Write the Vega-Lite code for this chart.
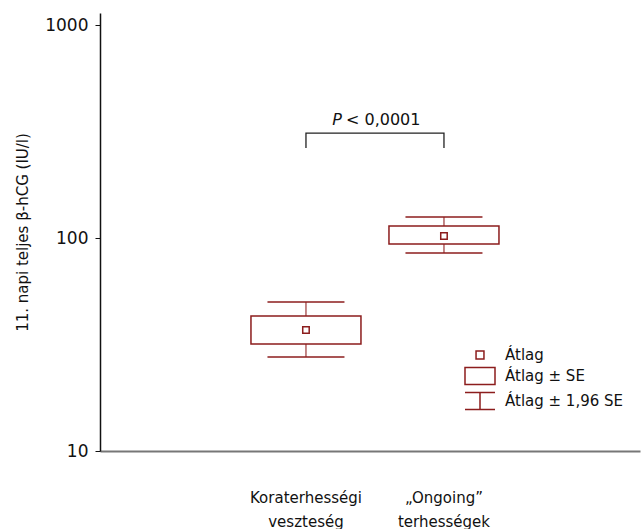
{
  "$schema": "https://vega.github.io/schema/vega-lite/v6.json",
  "width": 540,
  "height": 438,
  "autosize": "none",
  "padding": {"left": 100, "top": 13, "right": 1, "bottom": 78},
  "background": "white",
  "config": {
    "view": {"stroke": null},
    "font": "DejaVu Sans",
    "axis": {"labelFont": "DejaVu Sans", "titleFont": "DejaVu Sans", "grid": false}
  },
  "datasets": {
    "stats": [
      {"group": "Koraterhességi veszteség", "mean": 37.0, "se_lo": 31.8, "se_hi": 43.0, "ci_lo": 27.6, "ci_hi": 50.1},
      {"group": "„Ongoing” terhességek", "mean": 102.2, "se_lo": 93.7, "se_hi": 113.8, "ci_lo": 85.0, "ci_hi": 125.5}
    ],
    "bracket": [
      {"group": "Koraterhességi veszteség", "y": 265, "o": 1},
      {"group": "Koraterhességi veszteség", "y": 311, "o": 2},
      {"group": "„Ongoing” terhességek", "y": 311, "o": 3},
      {"group": "„Ongoing” terhességek", "y": 265, "o": 4}
    ],
    "ptext": [
      {"group": "Koraterhességi veszteség", "y": 358}
    ],
    "legend": [
      {"group": "Koraterhességi veszteség", "y": 10, "item": "Átlag"},
      {"group": "Koraterhességi veszteség", "y": 10, "item": "Átlag ± SE"},
      {"group": "Koraterhességi veszteség", "y": 10, "item": "Átlag ± 1,96 SE"}
    ]
  },
  "encoding": {
    "x": {
      "field": "group",
      "type": "nominal",
      "scale": {
        "type": "band",
        "domain": ["Koraterhességi veszteség", "„Ongoing” terhességek"],
        "paddingInner": 0.087,
        "paddingOuter": 1,
        "align": 0.518
      },
      "axis": {
        "title": null,
        "ticks": false,
        "labelAngle": 0,
        "labelPadding": 39,
        "labelBaseline": "top",
        "labelLineHeight": 24,
        "labelFontSize": 15,
        "labelColor": "#111",
        "domainColor": "#777",
        "domainWidth": 2,
        "labelExpr": "split(datum.label, ' ')"
      }
    }
  },
  "layer": [
    {
      "data": {"name": "stats"},
      "mark": {"type": "rule", "color": "#8c1d1d", "strokeWidth": 1.5, "opacity": 0.7},
      "encoding": {
        "y": {
          "field": "ci_lo",
          "type": "quantitative",
          "scale": {"type": "log", "domain": [10, 1140], "nice": false},
          "axis": {
            "title": "11. napi teljes β-hCG (IU/l)",
            "titleFontSize": 15,
            "titleFontWeight": "normal",
            "titleColor": "#111",
            "titlePadding": 14,
            "values": [10, 100, 1000],
            "format": "d",
            "labelFontSize": 17,
            "labelColor": "#111",
            "labelPadding": 7,
            "tickSize": 5,
            "tickColor": "#111",
            "domainColor": "#111",
            "domainWidth": 1.5
          }
        },
        "y2": {"field": "ci_hi"}
      }
    },
    {
      "data": {"name": "stats"},
      "mark": {"type": "tick", "orient": "horizontal", "color": "#8c1d1d", "size": 77, "thickness": 1.5, "opacity": 1},
      "encoding": {"y": {"field": "ci_lo", "type": "quantitative"}}
    },
    {
      "data": {"name": "stats"},
      "mark": {"type": "tick", "orient": "horizontal", "color": "#8c1d1d", "size": 77, "thickness": 1.5, "opacity": 1},
      "encoding": {"y": {"field": "ci_hi", "type": "quantitative"}}
    },
    {
      "data": {"name": "stats"},
      "mark": {"type": "bar", "width": 110, "fill": "white", "stroke": "#8c1d1d", "strokeWidth": 1.5},
      "encoding": {
        "y": {"field": "se_lo", "type": "quantitative"},
        "y2": {"field": "se_hi"}
      }
    },
    {
      "data": {"name": "stats"},
      "mark": {"type": "point", "shape": "square", "size": 42, "filled": false, "color": "#8c1d1d", "strokeWidth": 1.5, "opacity": 1},
      "encoding": {"y": {"field": "mean", "type": "quantitative"}}
    },
    {
      "data": {"name": "bracket"},
      "mark": {"type": "line", "color": "#222", "strokeWidth": 1.3, "interpolate": "linear"},
      "encoding": {
        "y": {"field": "y", "type": "quantitative"},
        "order": {"field": "o", "type": "quantitative"}
      }
    },
    {
      "data": {"name": "ptext"},
      "mark": {"type": "text", "text": "P", "fontStyle": "italic", "fontSize": 16, "align": "center", "baseline": "middle", "dx": 31, "color": "#111", "font": "DejaVu Sans"},
      "encoding": {"y": {"field": "y", "type": "quantitative"}}
    },
    {
      "data": {"name": "ptext"},
      "mark": {"type": "text", "text": "< 0,0001", "fontSize": 16, "align": "left", "baseline": "middle", "dx": 40, "color": "#111", "font": "DejaVu Sans"},
      "encoding": {"y": {"field": "y", "type": "quantitative"}}
    },
    {
      "data": {"name": "legend"},
      "mark": {"type": "point", "opacity": 0, "size": 324},
      "encoding": {
        "y": {"field": "y", "type": "quantitative"},
        "shape": {
          "field": "item",
          "type": "nominal",
          "scale": {
            "domain": ["Átlag", "Átlag ± SE", "Átlag ± 1,96 SE"],
            "range": [
              "M-0.44,-0.44H0.44V0.44H-0.44Z",
              "M-1.667,-0.944H1.667V0.944H-1.667Z",
              "M-1.667,-0.944H1.667M0,-0.944V0.944M-1.667,0.944H1.667"
            ]
          },
          "legend": {
            "title": null,
            "orient": "none",
            "legendX": 370,
            "legendY": 332,
            "padding": 0,
            "symbolSize": 324,
            "symbolOpacity": 1,
            "symbolStrokeColor": "#8c1d1d",
            "symbolFillColor": "white",
            "symbolStrokeWidth": 1.5,
            "labelFont": "DejaVu Sans",
            "labelFontSize": 15,
            "labelColor": "#111",
            "labelOffset": 15,
            "rowPadding": 1,
            "labelLimit": 300
          }
        }
      }
    }
  ]
}
